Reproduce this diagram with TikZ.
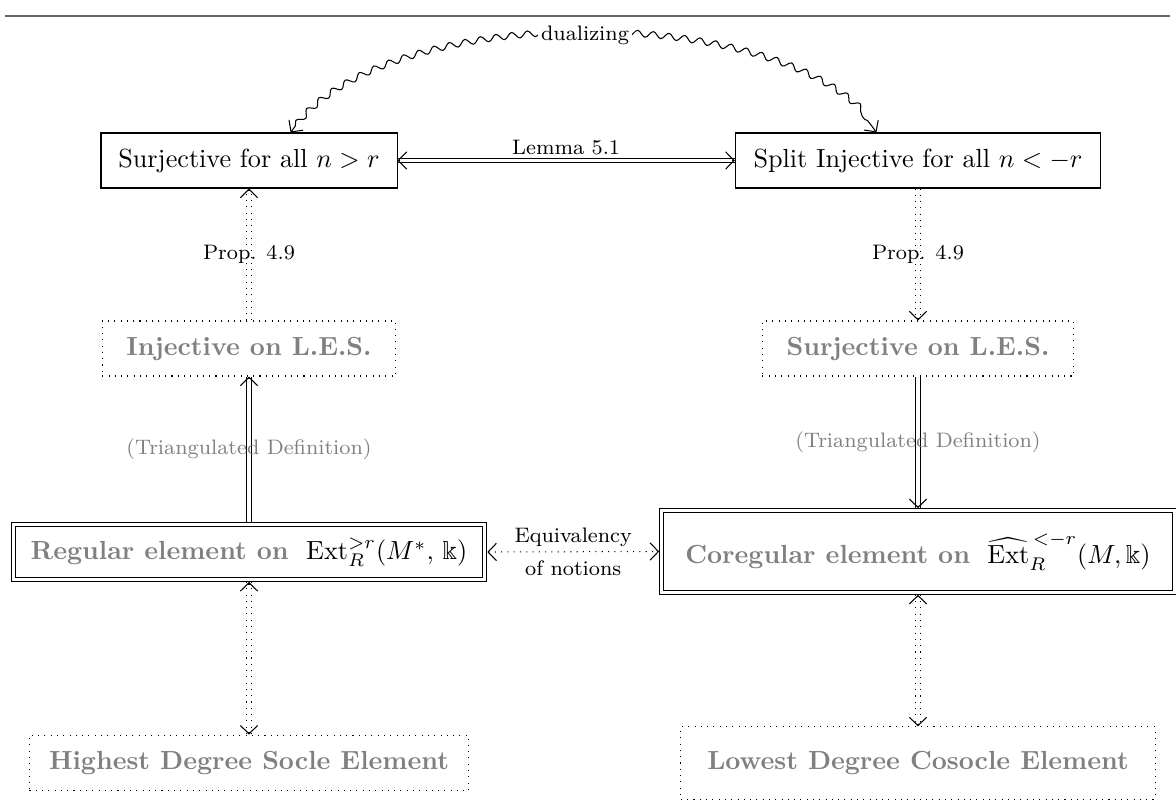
\documentclass[tikz,border=0pt]{standalone}
\usepackage{amssymb}
\usetikzlibrary{arrows.meta,decorations.pathmorphing,calc}
\begin{document}
\begin{tikzpicture}[x=0.3817pt,y=-0.3817pt,
  sbox/.style={draw, line width=0.4pt, inner sep=0pt, minimum height=21pt},
  dbox/.style={draw, dotted, inner sep=0pt, minimum height=21pt, text=gray, font=\bfseries},
  wbox/.style={draw, double, double distance=1.1pt, inner sep=0pt, outer sep=0.95pt},
  dsol/.style={double, double distance=1.2pt},
  ddot/.style={double, double distance=1.2pt, dotted},
  tipo/.style={-{Straight Barb[length=3.2pt,width=6.6pt]}},
  bothtip/.style={{Straight Barb[length=3.2pt,width=6.6pt]}-{Straight Barb[length=3.2pt,width=6.6pt]}},
  lbl/.style={font=\footnotesize, inner sep=1pt}]
\useasboundingbox (0,0) rectangle (1176,810);
\draw[black!60, line width=0.8pt] (5,16) coordinate (r1) -- (1170,16) coordinate (r2);

% nodes
\node[sbox, minimum width=113pt] (A) at (249,160.5) {Surjective for all $n>r$};
\node[sbox, minimum width=139.5pt] (B) at (918,160.5) {Split Injective for all $n<-r$};
\node[dbox, minimum width=112pt] (C) at (249,348.5) {Injective on L.E.S.};
\node[dbox, minimum width=118.8pt] (D) at (918,348.5) {Surjective on L.E.S.};
\node[wbox, minimum width=180pt, minimum height=21pt] (E) at (249,552)
  {\textcolor{gray}{\bfseries Regular element on}\ \ $\mathrm{Ext}^{>r}_R(M^*,\,\Bbbk)$};
\node[wbox, minimum width=195.7pt, minimum height=31.2pt] (F) at (918,551.5)
  {\textcolor{gray}{\bfseries Coregular element on}\ \ $\widehat{\mathrm{Ext}}_R^{\,<-r}(M,\Bbbk)$};
\node[dbox, minimum width=167.6pt, minimum height=21.3pt] (G) at (249,763) {Highest Degree Socle Element};
\node[dbox, minimum width=181pt, minimum height=27.6pt] (H) at (918,763) {Lowest Degree Cosocle Element};

% dualizing
\draw[decorate, decoration={snake, amplitude=1.2pt, segment length=6pt, pre length=3pt, post length=3pt}, bothtip]
  (A.34) .. controls (380,2) and (790,2) .. (B.146);
\node[lbl, fill=white] (dl) at (585,35) {dualizing};

% Lemma 5.1
\draw[dsol] (A.east) -- (B.west) node[midway, above, lbl, inner sep=2pt] {Lemma 5.1};
\draw[tipo] ([xshift=1pt]A.east) -- (A.east);
\draw[tipo] ([xshift=-1pt]B.west) -- (B.west);

% Prop 4.9
\draw[ddot] (C.north) -- (A.south) node[midway, lbl] {Prop. 4.9};
\draw[tipo] ([yshift=-1pt]A.south) -- (A.south);
\draw[ddot] (B.south) -- (D.north) node[midway, lbl] {Prop. 4.9};
\draw[tipo] ([yshift=1pt]D.north) -- (D.north);

% Triangulated
\draw[dsol] (E.north) -- (C.south) node[midway, lbl, text=gray] {(Triangulated Definition)};
\draw[tipo] ([yshift=-1pt]C.south) -- (C.south);
\draw[dsol] (D.south) -- (F.north) node[midway, lbl, text=gray] {(Triangulated Definition)};
\draw[tipo] ([yshift=1pt]F.north) -- (F.north);

% Equivalency
\draw[dotted, bothtip] (E.east) -- (F.west) node[midway, lbl, align=center] {Equivalency\\[3pt]of notions};

% bottom
\draw[ddot] (E.south) -- (G.north);
\draw[tipo] ([yshift=-1pt]E.south) -- (E.south);
\draw[tipo] ([yshift=1pt]G.north) -- (G.north);
\draw[ddot] (F.south) -- (H.north);
\draw[tipo] ([yshift=-1pt]F.south) -- (F.south);
\draw[tipo] ([yshift=1pt]H.north) -- (H.north);
\end{tikzpicture}
\end{document}
